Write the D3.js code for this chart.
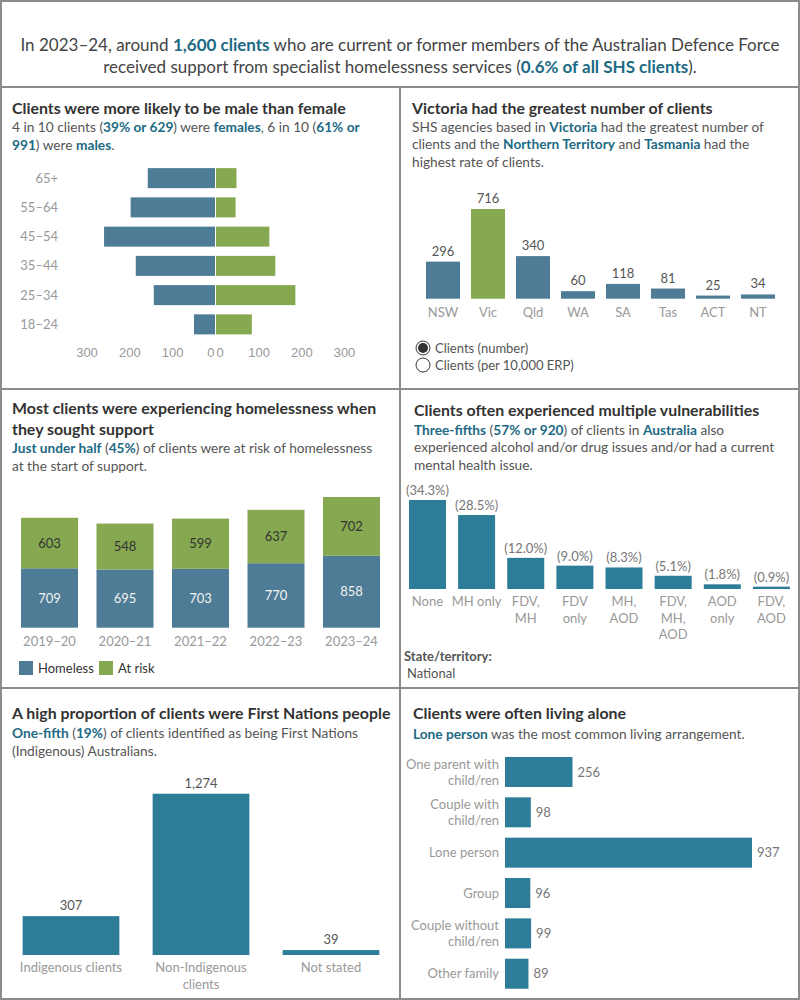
<!DOCTYPE html>
<html>
<head>
<meta charset="utf-8">
<script src="https://cdn.jsdelivr.net/npm/d3@7"></script>
<style>
  body { margin: 0; background: #fff; }
  svg { display: block; font-family: Lato, "Open Sans", sans-serif; }
</style>
</head>
<body>
<div id="chart"></div>
<script>
// ---- data ----
const ageGroups = ["65+", "55–64", "45–54", "35–44", "25–34", "18–24"];
const males = [157, 197, 259, 185, 143, 49];
const females = [48, 46, 125, 139, 186, 84];
const pyramidTicks = [0, 100, 200, 300];

const states = ["NSW", "Vic", "Qld", "WA", "SA", "Tas", "ACT", "NT"];
const stateClients = [296, 716, 340, 60, 118, 81, 25, 34];

const years = ["2019–20", "2020–21", "2021–22", "2022–23", "2023–24"];
const homeless = [709, 695, 703, 770, 858];
const atRisk = [603, 548, 599, 637, 702];

const vulnLabels = [["None"], ["MH only"], ["FDV,", "MH"], ["FDV", "only"], ["MH,", "AOD"], ["FDV,", "MH,", "AOD"], ["AOD", "only"], ["FDV,", "AOD"]];
const vulnPct = [34.3, 28.5, 12.0, 9.0, 8.3, 5.1, 1.8, 0.9];

const indigLabels = [["Indigenous clients"], ["Non-Indigenous", "clients"], ["Not stated"]];
const indigClients = [307, 1274, 39];

const livingLabels = [["One parent with", "child/ren"], ["Couple with", "child/ren"], ["Lone person"], ["Group"], ["Couple without", "child/ren"], ["Other family"]];
const livingClients = [256, 98, 937, 96, 99, 89];

// ---- colours ----
const blue = "#4e7b95", green = "#85a850", teal = "#2d7d98";
const hi = "#1d6a84", txt = "#555", ttl = "#333", axisGrey = "#999", border = "#8c8c8c";

const svg = d3.select("#chart").append("svg")
  .attr("width", 800).attr("height", 1000);

// panel frames
const frame = svg.append("g").attr("fill", "none").attr("stroke", border).attr("stroke-width", 2);
frame.append("rect").attr("x", 1).attr("y", 1).attr("width", 798).attr("height", 998);
frame.append("line").attr("x1", 0).attr("x2", 800).attr("y1", 87).attr("y2", 87);
frame.append("line").attr("x1", 0).attr("x2", 800).attr("y1", 389).attr("y2", 389);
frame.append("line").attr("x1", 0).attr("x2", 800).attr("y1", 688).attr("y2", 688);
frame.append("line").attr("x1", 400).attr("x2", 400).attr("y1", 87).attr("y2", 1000);

// rich text: lines = array of arrays of [text, highlighted]
function rich(x, y, lh, lines, opts = {}) {
  const t = svg.append("text")
    .attr("x", x).attr("y", y)
    .attr("font-size", opts.size || 13.7)
    .attr("fill", opts.fill || txt)
    .attr("text-anchor", opts.anchor || "start");
  lines.forEach((parts, i) => {
    parts.forEach((p, j) => {
      const s = t.append("tspan").text(p[0]);
      if (j === 0) s.attr("x", x).attr("y", y + i * lh);
      if (p[1]) s.attr("fill", hi).attr("font-weight", 700);
    });
  });
  return t;
}
function title(x, y, lines) {
  const t = svg.append("text").attr("font-size", 15.9).attr("font-weight", 700).attr("fill", ttl);
  lines.forEach((l, i) => t.append("tspan").attr("x", x).attr("y", y + i * 21).text(l));
}

// ---- header ----
rich(400, 51, 22, [
  [["In 2023–24, around "], ["1,600 clients", true], [" who are current or former members of the Australian Defence Force"]],
  [["received support from specialist homelessness services ("], ["0.6% of all SHS clients", true], [")."]]
], { size: 17, anchor: "middle", fill: "#444" });

// ---- panel 1: age/sex pyramid ----
title(12, 114, ["Clients were more likely to be male than female"]);
rich(12, 132, 17.5, [
  [["4 in 10 clients ("], ["39% or 629", true], [") were "], ["females", true], [", 6 in 10 ("], ["61% or", true]],
  [["991", true], [") were "], ["males", true], ["."]]
]);

const pyY = d3.scaleBand().domain(ageGroups).range([163.5, 339]).paddingInner(0.316).paddingOuter(0.158);
const xMale = d3.scaleLinear().domain([0, 300]).range([215, 86.5]);
const xFemale = d3.scaleLinear().domain([0, 300]).range([216, 344]);

svg.append("g").selectAll("rect").data(ageGroups).join("rect")
  .attr("x", (d, i) => xMale(males[i])).attr("y", d => pyY(d))
  .attr("width", (d, i) => xMale(0) - xMale(males[i])).attr("height", pyY.bandwidth())
  .attr("fill", blue);
svg.append("g").selectAll("rect").data(ageGroups).join("rect")
  .attr("x", xFemale(0)).attr("y", d => pyY(d))
  .attr("width", (d, i) => xFemale(females[i]) - xFemale(0)).attr("height", pyY.bandwidth())
  .attr("fill", green);
svg.append("g").selectAll("text").data(ageGroups).join("text")
  .attr("x", 58).attr("y", d => pyY(d) + pyY.bandwidth() / 2).attr("dy", "0.35em")
  .attr("text-anchor", "end").attr("font-size", 13).attr("fill", axisGrey).text(d => d);

const axL = svg.append("g").attr("transform", "translate(0,348)")
  .call(d3.axisBottom(xMale).tickValues(pyramidTicks).tickSize(0).tickPadding(0));
const axR = svg.append("g").attr("transform", "translate(0,348)")
  .call(d3.axisBottom(xFemale).tickValues(pyramidTicks).tickSize(0).tickPadding(0));
[axL, axR].forEach(a => {
  a.select(".domain").remove();
  a.selectAll("text").attr("font-size", 13).attr("fill", axisGrey).attr("font-family", null);
});
axL.selectAll("text").filter(d => d === 0).attr("text-anchor", "end").attr("dx", -1);
axR.selectAll("text").filter(d => d === 0).attr("text-anchor", "start").attr("dx", 0);

// ---- panel 2: states ----
title(412, 114, ["Victoria had the greatest number of clients"]);
rich(412, 132, 17.3, [
  [["SHS agencies based in "], ["Victoria", true], [" had the greatest number of"]],
  [["clients and the "], ["Northern Territory", true], [" and "], ["Tasmania", true], [" had the"]],
  [["highest rate of clients."]]
]);

const sx = d3.scaleBand().domain(states).range([420.5, 780.5]).paddingInner(0.244).paddingOuter(0.122);
const sy = d3.scaleLinear().domain([0, 716]).range([298.7, 209]);
svg.append("g").selectAll("rect").data(states).join("rect")
  .attr("x", d => sx(d)).attr("y", (d, i) => sy(stateClients[i]))
  .attr("width", sx.bandwidth()).attr("height", (d, i) => sy(0) - sy(stateClients[i]))
  .attr("fill", d => d === "Vic" ? green : blue);
svg.append("g").selectAll("text").data(states).join("text")
  .attr("x", d => sx(d) + sx.bandwidth() / 2).attr("y", (d, i) => sy(stateClients[i]) - 6)
  .attr("text-anchor", "middle").attr("font-size", 13).attr("fill", txt)
  .text((d, i) => stateClients[i]);
svg.append("g").selectAll("text").data(states).join("text")
  .attr("x", d => sx(d) + sx.bandwidth() / 2).attr("y", 312).attr("dy", "0.35em")
  .attr("text-anchor", "middle").attr("font-size", 13).attr("fill", axisGrey).text(d => d);

// radio buttons
const radios = ["Clients (number)", "Clients (per 10,000 ERP)"];
const rg = svg.append("g").selectAll("g").data(radios).join("g")
  .attr("transform", (d, i) => `translate(423,${348 + i * 17})`);
rg.append("circle").attr("r", 7).attr("fill", "#fff").attr("stroke", "#333").attr("stroke-width", 1);
rg.filter((d, i) => i === 0).append("circle").attr("r", 5).attr("fill", "#333");
rg.append("text").attr("x", 12).attr("dy", "0.35em").attr("font-size", 13).attr("fill", txt).text(d => d);

// ---- panel 3: homeless / at risk ----
title(12, 414, ["Most clients were experiencing homelessness when", "they sought support"]);
rich(12, 453, 18, [
  [["Just under half", true], [" ("], ["45%", true], [") of clients were at risk of homelessness"]],
  [["at the start of support."]]
]);

const hx = d3.scaleBand().domain(years).range([11.75, 389.25]).paddingInner(0.245).paddingOuter(0.1225);
const hy = d3.scaleLinear().domain([0, 1560]).range([627.7, 497]);
const stackData = years.map((y, i) => ({ year: y, Homeless: homeless[i], "At risk": atRisk[i] }));
const stacked = d3.stack().keys(["Homeless", "At risk"])(stackData);
const hColor = d3.scaleOrdinal().domain(["Homeless", "At risk"]).range([blue, green]);
const layers = svg.append("g").selectAll("g").data(stacked).join("g");
layers.selectAll("rect").data(d => d.map(v => Object.assign(v, { key: d.key }))).join("rect")
  .attr("x", d => hx(d.data.year)).attr("y", d => hy(d[1]))
  .attr("width", hx.bandwidth()).attr("height", d => hy(d[0]) - hy(d[1]))
  .attr("fill", d => hColor(d.key));
layers.selectAll("text").data(d => d).join("text")
  .attr("x", d => hx(d.data.year) + hx.bandwidth() / 2).attr("y", d => hy((d[0] + d[1]) / 2))
  .attr("dy", "0.35em").attr("text-anchor", "middle").attr("font-size", 13)
  .attr("fill", d => d.key === "Homeless" ? "#f2f2f2" : "#333")
  .text(d => d[1] - d[0]);
svg.append("g").selectAll("text").data(years).join("text")
  .attr("x", d => hx(d) + hx.bandwidth() / 2).attr("y", 641).attr("dy", "0.35em")
  .attr("text-anchor", "middle").attr("font-size", 13).attr("fill", axisGrey).text(d => d);
const lg = svg.append("g").selectAll("g").data(["Homeless", "At risk"]).join("g")
  .attr("transform", (d, i) => `translate(${19 + i * 80},661)`);
lg.append("rect").attr("width", 14).attr("height", 14).attr("fill", d => hColor(d));
lg.append("text").attr("x", 19).attr("y", 7).attr("dy", "0.35em").attr("font-size", 13).attr("fill", ttl).text(d => d);

// ---- panel 4: vulnerabilities ----
title(414, 416, ["Clients often experienced multiple vulnerabilities"]);
rich(414, 435, 17.3, [
  [["Three-fifths", true], [" ("], ["57% or 920", true], [") of clients in "], ["Australia", true], [" also"]],
  [["experienced alcohol and/or drug issues and/or had a current"]],
  [["mental health issue."]]
]);

const vKeys = vulnLabels.map(d => d.join(" "));
const vx = d3.scaleBand().domain(vKeys).range([402.9, 796]).paddingInner(0.247).paddingOuter(0.1235);
const vy = d3.scaleLinear().domain([0, 34.3]).range([589, 500]);
svg.append("g").selectAll("rect").data(vKeys).join("rect")
  .attr("x", d => vx(d)).attr("y", (d, i) => vy(vulnPct[i]))
  .attr("width", vx.bandwidth()).attr("height", (d, i) => vy(0) - vy(vulnPct[i]))
  .attr("fill", teal);
svg.append("g").selectAll("text").data(vKeys).join("text")
  .attr("x", d => vx(d) + vx.bandwidth() / 2).attr("y", (d, i) => vy(vulnPct[i]) - 5)
  .attr("text-anchor", "middle").attr("font-size", 13).attr("fill", "#777")
  .text((d, i) => `(${vulnPct[i].toFixed(1)}%)`);
const vl = svg.append("g").selectAll("text").data(vKeys).join("text")
  .attr("text-anchor", "middle").attr("font-size", 13).attr("fill", axisGrey);
vl.each(function (d, i) {
  vulnLabels[i].forEach((line, j) => d3.select(this).append("tspan")
    .attr("x", vx(d) + vx.bandwidth() / 2).attr("y", 606 + j * 16.5).text(line));
});
svg.append("text").attr("x", 404).attr("y", 661).attr("font-size", 13).attr("font-weight", 700)
  .attr("fill", txt).text("State/territory:");
svg.append("text").attr("x", 407).attr("y", 678).attr("font-size", 13).attr("fill", txt).text("National");

// ---- panel 5: Indigenous status ----
title(12, 719, ["A high proportion of clients were First Nations people"]);
rich(12, 738, 17.5, [
  [["One-fifth", true], [" ("], ["19%", true], [") of clients identified as being First Nations"]],
  [["(Indigenous) Australians."]]
]);
const iKeys = indigLabels.map(d => d.join(" "));
const ix = d3.scaleBand().domain(iKeys).range([6, 396]).paddingInner(0.256).paddingOuter(0.128);
const iy = d3.scaleLinear().domain([0, 1274]).range([955, 793.7]);
svg.append("g").selectAll("rect").data(iKeys).join("rect")
  .attr("x", d => ix(d)).attr("y", (d, i) => iy(indigClients[i]))
  .attr("width", ix.bandwidth()).attr("height", (d, i) => iy(0) - iy(indigClients[i]))
  .attr("fill", teal);
svg.append("g").selectAll("text").data(iKeys).join("text")
  .attr("x", d => ix(d) + ix.bandwidth() / 2).attr("y", (d, i) => iy(indigClients[i]) - 6)
  .attr("text-anchor", "middle").attr("font-size", 13).attr("fill", txt)
  .text((d, i) => d3.format(",")(indigClients[i]));
const il = svg.append("g").selectAll("text").data(iKeys).join("text")
  .attr("text-anchor", "middle").attr("font-size", 13).attr("fill", axisGrey);
il.each(function (d, i) {
  indigLabels[i].forEach((line, j) => d3.select(this).append("tspan")
    .attr("x", ix(d) + ix.bandwidth() / 2).attr("y", 972 + j * 17).text(line));
});

// ---- panel 6: living arrangements ----
title(413, 719, ["Clients were often living alone"]);
rich(413, 739, 17.5, [
  [["Lone person", true], [" was the most common living arrangement."]]
]);
const lKeys = livingLabels.map(d => d.join(" "));
const ly = d3.scaleBand().domain(lKeys).range([751.8, 993.9]).paddingInner(0.2565).paddingOuter(0.128);
const lx = d3.scaleLinear().domain([0, 937]).range([505, 752]);
svg.append("g").selectAll("rect").data(lKeys).join("rect")
  .attr("x", lx(0)).attr("y", d => ly(d))
  .attr("width", (d, i) => lx(livingClients[i]) - lx(0)).attr("height", ly.bandwidth())
  .attr("fill", teal);
svg.append("g").selectAll("text").data(lKeys).join("text")
  .attr("x", (d, i) => lx(livingClients[i]) + 5).attr("y", d => ly(d) + ly.bandwidth() / 2)
  .attr("dy", "0.35em").attr("font-size", 13).attr("fill", "#777")
  .text((d, i) => livingClients[i]);
const ll = svg.append("g").selectAll("text").data(lKeys).join("text")
  .attr("text-anchor", "end").attr("font-size", 13).attr("fill", axisGrey);
ll.each(function (d, i) {
  const lines = livingLabels[i];
  lines.forEach((line, j) => d3.select(this).append("tspan")
    .attr("x", 499)
    .attr("y", ly(d) + ly.bandwidth() / 2 + (j - (lines.length - 1) / 2) * 16)
    .attr("dy", "0.35em").text(line));
});
</script>
</body>
</html>
